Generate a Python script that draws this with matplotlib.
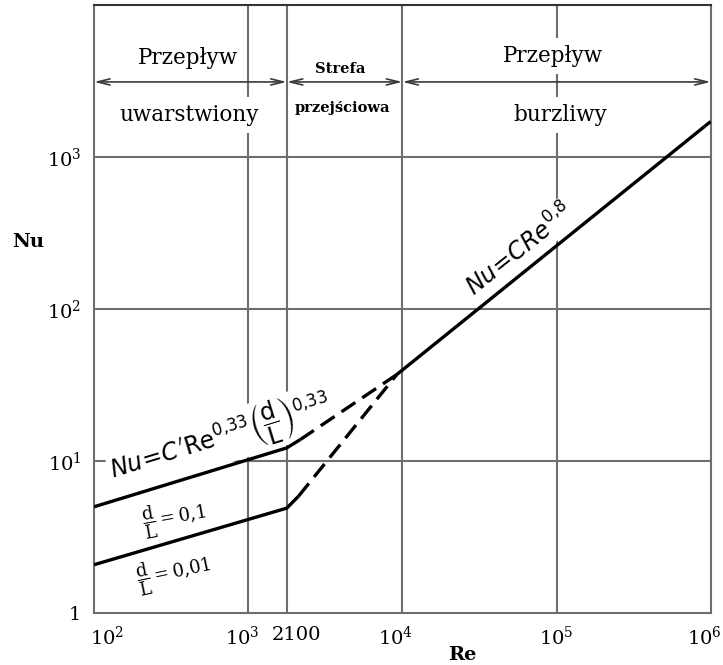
"""
Nu vs Re for forced convection in a tube: laminar, transitional and turbulent regimes.
"""

import matplotlib.pyplot as plt
from matplotlib.transforms import ScaledTranslation

plt.rcParams["font.family"] = ["DejaVu Serif"]
plt.rcParams["mathtext.fontset"] = "dejavuserif"

# values
RE_TRANS = 1780          # where the "2100" line is drawn in the reference
RE_TURB = 9200

laminar_hi_re = [100, RE_TRANS, 2170]
laminar_hi_nu = [5.0, 12.2, 13.8]
laminar_lo_re = [100, RE_TRANS, 2115]
laminar_lo_nu = [2.08, 4.9, 5.85]

trans_hi_re = [2170, RE_TURB]
trans_hi_nu = [13.8, 37.0]
trans_lo_re = [2115, RE_TURB]
trans_lo_nu = [5.85, 37.0]

turb_re = [RE_TURB, 1e6]
turb_nu = [37.0, 1706]

x_ticks = [1e2, 1e3, RE_TRANS, 1e4, 1e5, 1e6]
x_labels = ["$10^2$", "$10^3$", "2100", "$10^4$", "$10^5$", "$10^6$"]
x_label_shift = [13, -6, 10, -7, 0, -6]   # px, labels sit a bit off their lines
y_ticks = [1, 10, 100, 1000]
y_labels = ["1", "$10^1$", "$10^2$", "$10^3$"]

regions = [(1e2, RE_TRANS), (RE_TRANS, 1e4), (1e4, 1e6)]

GRID = "#6e6e6e"
WHITE = dict(facecolor="white", edgecolor="none", pad=5)

fig = plt.figure(figsize=(7.23, 6.65), dpi=100)
ax = fig.add_axes([0.130, 0.078, 0.853, 0.915])
ax.set_xscale("log")
ax.set_yscale("log")
ax.set_xlim(1e2, 1e6)
ax.set_ylim(1, 1e4)

for y in [10, 100, 1000]:
    ax.axhline(y, color=GRID, lw=1.5, zorder=1)
for x in [1e3, RE_TRANS, 1e4, 1e5]:
    ax.axvline(x, color=GRID, lw=1.5, zorder=1)

for side in ["left", "bottom", "right"]:
    ax.spines[side].set_color(GRID)
    ax.spines[side].set_linewidth(1.5)
ax.spines["top"].set_color("#333333")
ax.spines["top"].set_linewidth(1.5)

ax.set_xticks(x_ticks)
ax.set_xticklabels(x_labels)
ax.set_yticks(y_ticks)
ax.set_yticklabels(y_labels)
ax.minorticks_off()
ax.tick_params(length=0, labelsize=14, pad=9)
for lbl, dx in zip(ax.get_xticklabels(), x_label_shift):
    lbl.set_transform(lbl.get_transform() + ScaledTranslation(dx / 100, 0, fig.dpi_scale_trans))

# curves
ax.plot(laminar_hi_re, laminar_hi_nu, color="black", lw=2.4, zorder=5, solid_capstyle="butt")
ax.plot(laminar_lo_re, laminar_lo_nu, color="black", lw=2.4, zorder=5, solid_capstyle="butt")
ax.plot(trans_hi_re, trans_hi_nu, color="black", lw=2.4, ls=(0, (5, 2.5)), zorder=5)
ax.plot(trans_lo_re, trans_lo_nu, color="black", lw=2.4, ls=(0, (5, 2.5)), zorder=5)
ax.plot(turb_re, turb_nu, color="black", lw=2.4, zorder=5, solid_capstyle="butt")

# regime headers
top = ax.get_xaxis_transform()
for x0, x1 in regions:
    ax.annotate("", xy=(x1, 0.873), xytext=(x0, 0.873), xycoords=top, textcoords=top,
                arrowprops=dict(arrowstyle="<->,head_length=0.9,head_width=0.22",
                                color="#3a3a3a", lw=1.2, shrinkA=0, shrinkB=0),
                zorder=3)

ax.text(404, 0.913, "Przepływ", transform=top, ha="center", va="center",
        fontsize=15.5, bbox=WHITE, zorder=2)
ax.text(413, 0.819, "uwarstwiony", transform=top, ha="center", va="center",
        fontsize=15.5, bbox=WHITE, zorder=2)
ax.text(3940, 0.895, "Strefa", transform=top, ha="center", va="center",
        fontsize=10.5, fontweight="bold", bbox=WHITE, zorder=2)
ax.text(4080, 0.830, "przejściowa", transform=top, ha="center", va="center",
        fontsize=10.5, fontweight="bold", bbox=WHITE, zorder=2)
ax.text(94600, 0.915, "Przepływ", transform=top, ha="center", va="center",
        fontsize=15.5, bbox=WHITE, zorder=2)
ax.text(1.05e5, 0.819, "burzliwy", transform=top, ha="center", va="center",
        fontsize=15.5, bbox=WHITE, zorder=2)

# formulas
ax.text(660, 14.0,
        r"$Nu\!=\!C'\mathrm{Re}^{0{,}33}\left(\dfrac{\mathrm{d}}{\mathrm{L}}\right)^{0{,}33}$",
        rotation=17, ha="center", va="center", fontsize=17,
        math_fontfamily="dejavusans", bbox=dict(facecolor="white", edgecolor="none", pad=1), zorder=3)
ax.text(330, 4.25, r"$\dfrac{\mathrm{d}}{\mathrm{L}}=0{,}1$", rotation=10, ha="center", va="center",
        fontsize=13, zorder=3)
ax.text(330, 1.85, r"$\dfrac{\mathrm{d}}{\mathrm{L}}=0{,}01$", rotation=12, ha="center", va="center",
        fontsize=13, zorder=3)
ax.text(57800, 245, r"$Nu\!=\!CRe^{0{,}8}$", rotation=38.7, ha="center", va="center",
        fontsize=17, math_fontfamily="dejavusans",
        bbox=dict(facecolor="white", edgecolor="none", pad=2), zorder=3)

fig.text(0.039, 0.636, "Nu", fontsize=14, fontweight="bold", ha="center", va="center")
fig.text(0.640, 0.015, "Re", fontsize=14, fontweight="bold", ha="center", va="center")

fig.savefig("out.png", dpi=100)
